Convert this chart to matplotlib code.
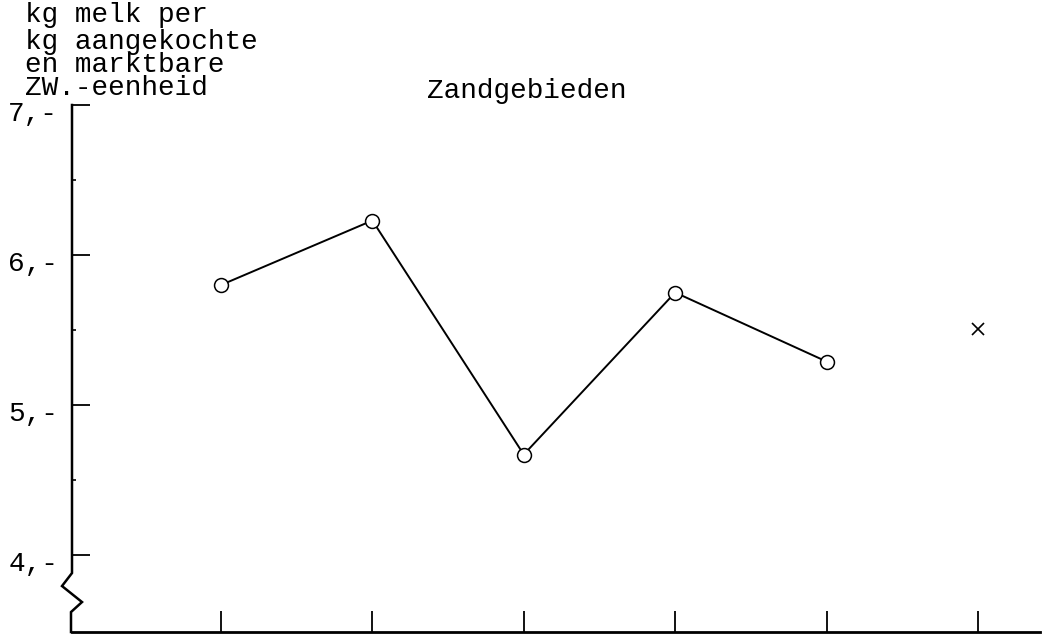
import numpy as np
import matplotlib.pyplot as plt
import matplotlib.transforms as mtransforms

# kg melk per kg aangekochte en marktbare ZW.-eenheid, Zandgebieden
periods = [1, 2, 3, 4, 5]
melk = [5.80, 6.23, 4.67, 5.75, 5.29]
extra_x = [6]
extra_y = [5.51]
yticks = [4, 5, 6, 7]
yticklabels = ["4,-", "5,-", "6,-", "7,-"]
ylabel_lines = ["kg melk per", "kg aangekochte", "en marktbare", "ZW.-eenheid"]
title = "Zandgebieden"

plt.rcParams['font.family'] = ['Liberation Mono', 'DejaVu Sans Mono']

W, H = 1047, 638
fig = plt.figure(figsize=(W / 100, H / 100), dpi=100)
ax = fig.add_axes([72 / W, 1 - 632 / H, (1040 - 72) / W, (632 - 105) / H])

ymin, ymax = 3.487, 7.0
xmin, xmax = 0.016, 6.41
ax.set_ylim(ymin, ymax)
ax.set_xlim(xmin, xmax)

ax.plot(periods, melk, color='black', lw=1.4, marker='o', ms=10,
        mfc='white', mec='black', mew=1.1, zorder=3)
ax.plot(extra_x, extra_y, ls='none', marker='x', ms=8, color='black', mew=1.2)

for s in ['top', 'right', 'left']:
    ax.spines[s].set_visible(False)
ax.spines['bottom'].set_linewidth(2.0)

# y axis with a break (zigzag) near the bottom
yz = lambda p: 7 - (p - 105) / 150.0
xz = lambda p: xmin + (p - 72) / 151.4
axis_x = [xz(72), xz(72), xz(62), xz(82), xz(71), xz(71)]
axis_y = [ymax, yz(573), yz(586), yz(602), yz(612), ymin]
ax.plot(axis_x, axis_y, color='black', lw=1.8, clip_on=False, solid_joinstyle='miter')

ax.set_yticks(yticks)
ax.set_yticklabels(yticklabels, fontsize=20)
ax.set_yticks([4.5, 5.5, 6.5], minor=True)
ax.tick_params(axis='y', which='major', direction='in', length=13, width=1.3, pad=10)
ax.tick_params(axis='y', which='minor', direction='in', length=3, width=1.2)
ax.set_xticks(periods + extra_x)
ax.set_xticklabels([])
ax.tick_params(axis='x', direction='in', length=15, width=1.3)

# tick labels sit a little below their ticks in the original
shift = mtransforms.ScaledTranslation(0, -6 / 100, fig.dpi_scale_trans)
for lab in ax.get_yticklabels():
    lab.set_transform(lab.get_transform() + shift)

# axis caption: first line apart, the other three typed close together
fig.text(25 / W, 1 - 15 / H, ylabel_lines[0], fontsize=20, va='center', ha='left')
fig.text(25 / W, 1 - 95 / H, "\n".join(ylabel_lines[1:]), fontsize=20,
         va='baseline', ha='left', linespacing=0.86)

fig.text(527 / W, 1 - 91 / H, title, fontsize=20, va='center', ha='center')

fig.savefig('out.png', dpi=100)
